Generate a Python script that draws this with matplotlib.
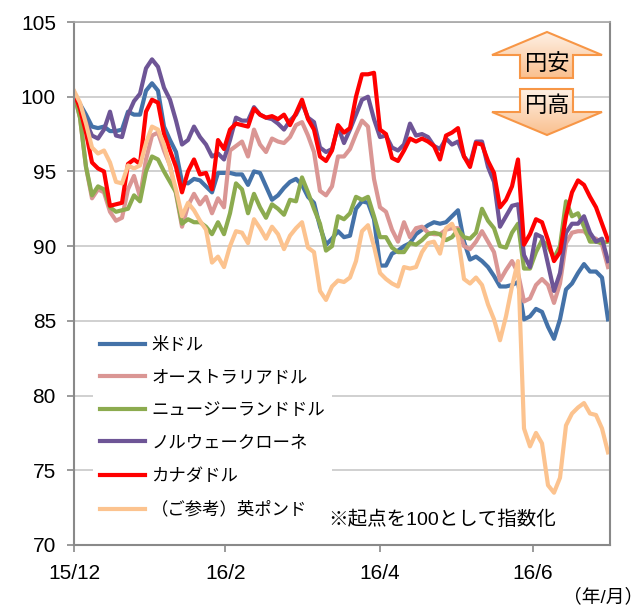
import numpy as np
import matplotlib
matplotlib.use("Agg")
import matplotlib.pyplot as plt
from matplotlib.patches import Polygon
from matplotlib.colors import LinearSegmentedColormap

plt.rcParams['font.family'] = ['Liberation Sans', 'Noto Sans CJK JP']

# -------------------------------
# Data (index, start = 100)
# -------------------------------
usd = [100.2, 99.5, 98.8, 98.0, 97.9, 98.0, 97.7, 97.7, 97.8, 99.0,
       98.8, 98.8, 100.4, 100.9, 100.4, 98.0, 97.1, 96.3, 94.3, 94.2,
       94.5, 94.4, 94.0, 93.6, 94.9, 94.9, 94.9, 94.8, 94.8, 94.1,
       95.0, 94.9, 94.0, 93.1, 93.4, 93.9, 94.3, 94.5, 94.1, 93.3,
       92.9, 91.3, 90.1, 90.5, 91.0, 90.6, 90.7, 92.5, 93.0, 92.9,
       91.8, 88.7, 88.7, 89.5, 89.7, 90.0, 90.2, 90.8, 91.1, 91.4,
       91.6, 91.5, 91.6, 92.0, 92.4, 90.3, 89.1, 89.3, 89.0, 88.6,
       88.0, 87.3, 87.3, 87.4, 87.6, 85.1, 85.3, 85.8, 85.6, 84.6,
       83.8, 85.1, 87.1, 87.5, 88.2, 88.8, 88.3, 88.3, 87.9, 85.1]

aud = [100.2, 98.6, 95.3, 93.2, 93.8, 93.6, 92.3, 91.7, 91.9, 93.8,
       94.7, 93.3, 95.8, 97.4, 97.6, 96.4, 95.4, 93.5, 91.3, 92.7,
       93.5, 92.8, 93.3, 92.2, 93.2, 92.6, 96.4, 96.7, 97.0, 96.0,
       97.8, 96.8, 96.3, 97.2, 97.0, 96.9, 97.3, 98.1, 98.3, 97.4,
       96.3, 93.7, 93.4, 94.0, 96.0, 96.0, 96.5, 97.5, 98.4, 98.0,
       94.5, 92.6, 92.3, 91.1, 90.3, 91.6, 90.6, 91.2, 91.3, 90.9,
       90.8, 90.8, 91.1, 91.2, 91.2, 90.0, 89.8, 90.3, 91.0, 90.3,
       89.6, 87.7, 88.4, 89.0, 88.2, 86.3, 86.5, 87.4, 87.8, 87.4,
       86.2, 87.5, 90.2, 90.9, 91.0, 91.0, 90.6, 90.5, 90.1, 88.6]

nzd = [100.2, 98.6, 95.3, 93.4, 94.0, 93.8, 92.6, 92.3, 92.4, 92.5,
       93.4, 93.0, 95.0, 96.0, 95.8, 95.0, 94.3, 93.6, 91.5, 91.8,
       91.6, 91.6, 91.3, 90.8, 91.6, 90.8, 92.2, 94.2, 93.8, 92.2,
       93.5, 92.6, 91.9, 92.8, 92.5, 92.1, 93.1, 93.0, 94.6, 93.6,
       92.5, 91.5, 89.7, 90.0, 92.0, 91.8, 92.2, 93.3, 93.1, 93.3,
       92.0, 90.6, 90.6, 89.9, 89.6, 89.6, 90.2, 90.1, 90.4, 90.8,
       90.9, 90.8, 90.4, 90.6, 91.1, 90.6, 90.5, 90.9, 92.5, 91.7,
       91.2, 90.0, 89.9, 90.9, 91.5, 88.5, 88.5, 89.6, 90.4, 90.0,
       89.2, 90.0, 93.0, 92.0, 92.2, 91.3, 90.3, 90.3, 90.2, 90.3]

nok = [100.2, 99.4, 98.3, 97.4, 97.2, 97.8, 99.0, 97.4, 97.3, 98.8,
       99.7, 100.2, 101.9, 102.5, 102.0, 100.6, 99.8, 98.4, 96.8, 97.1,
       98.0, 97.3, 96.8, 96.0, 96.2, 95.8, 97.1, 98.6, 98.4, 98.4,
       99.3, 98.8, 98.6, 98.5, 98.2, 97.8, 98.4, 98.8, 99.6, 98.6,
       98.3, 96.6, 96.3, 96.5, 98.0, 96.9, 97.8, 98.8, 99.8, 100.0,
       98.5, 97.3, 97.4, 96.6, 96.4, 96.8, 98.2, 97.4, 97.5, 97.3,
       96.7, 96.5, 97.2, 96.8, 97.0, 96.0, 95.5, 97.0, 97.0, 95.3,
       94.3, 91.3, 92.0, 92.7, 92.8, 89.4, 88.6, 90.8, 90.6, 88.8,
       87.0, 88.2, 90.9, 91.5, 91.5, 92.0, 90.9, 90.3, 90.5, 89.0]

cad = [100.3, 99.2, 97.6, 95.6, 95.2, 95.0, 92.7, 92.8, 92.9, 95.5,
       95.8, 95.5, 99.0, 99.8, 99.6, 97.5, 96.4, 95.3, 93.6, 95.0,
       95.8, 94.8, 94.9, 93.8, 97.1, 96.5, 97.8, 98.2, 98.1, 98.0,
       99.2, 98.8, 98.6, 98.7, 98.5, 98.8, 98.1, 98.9, 99.8, 98.5,
       97.8, 96.0, 95.7, 96.4, 98.1, 97.6, 97.9, 100.0, 101.5, 101.5,
       101.6, 97.8, 97.5, 95.9, 95.7, 96.4, 97.2, 97.0, 97.2, 97.0,
       96.7, 95.8, 97.4, 97.6, 97.9, 96.0, 95.3, 96.9, 96.8, 95.7,
       94.9, 92.6, 93.1, 94.0, 95.8, 90.1, 90.8, 91.8, 91.6, 90.4,
       89.0, 89.6, 92.0, 93.6, 94.4, 94.1, 93.3, 92.6, 91.5, 90.4]

gbp = [100.4, 99.6, 98.2, 96.6, 96.2, 96.4, 95.6, 94.3, 94.2, 95.4,
       95.2, 95.4, 96.9, 98.0, 97.8, 96.8, 95.3, 93.8, 92.0, 92.9,
       92.4, 91.7, 91.1, 88.9, 89.3, 88.6, 90.0, 91.0, 90.9, 90.2,
       91.8, 91.2, 90.5, 91.3, 90.8, 89.8, 90.7, 91.2, 91.6, 89.9,
       89.6, 87.0, 86.4, 87.3, 87.7, 87.6, 87.9, 89.0, 91.0, 91.4,
       90.0, 88.2, 87.8, 87.5, 87.3, 88.6, 88.5, 88.6, 89.6, 90.2,
       90.3, 89.5, 91.2, 91.5, 90.6, 87.8, 87.5, 87.9, 87.4, 86.1,
       85.1, 83.7, 85.3, 87.3, 89.0, 77.8, 76.6, 77.5, 76.8, 74.0,
       73.5, 74.5, 78.0, 78.8, 79.2, 79.5, 78.8, 78.7, 77.8, 76.2]

names = ['米ドル', 'オーストラリアドル', 'ニュージーランドドル',
         'ノルウェークローネ', 'カナダドル', '（ご参考）英ポンド']
colors = ['#4472A8', '#DA9694', '#8CAB4F', '#6E5596', '#FF0000', '#FCC38F']

tick_labels = ['15/12', '16/2', '16/4', '16/6']
tick_pos = [0, 25.2, 51, 76.5]

# -------------------------------
# Figure
# -------------------------------
W, H = 644, 610
fig = plt.figure(figsize=(W / 100, H / 100), dpi=100)
ax = fig.add_axes([74 / W, 1 - 545 / H, 536 / W, 523 / H])

x = np.arange(len(usd))
for vals, name, c in zip([usd, aud, nzd, nok, cad, gbp], names, colors):
    ax.plot(x, vals, color=c, lw=3, label=name, solid_joinstyle='round')

ax.set_xlim(0, 536 / 6)
ax.set_ylim(70, 105)
ax.set_yticks(range(70, 106, 5))
ax.set_xticks(tick_pos)
ax.set_xticklabels(tick_labels)

grey = '#898989'
ax.yaxis.grid(True, color='#C8C8C8', lw=1.2)
ax.set_axisbelow(True)
for s in ['left', 'bottom', 'right']:
    ax.spines[s].set_color(grey)
    ax.spines[s].set_linewidth(1.5)
ax.spines['top'].set_color('#A6A6A6')
ax.spines['top'].set_linewidth(1.2)
ax.tick_params(axis='both', direction='out', length=5, width=1.2,
               color=grey, labelsize=15, labelcolor='black')
ax.tick_params(axis='x', pad=9)
ax.tick_params(axis='y', pad=8)

leg = ax.legend(loc='upper left', bbox_to_anchor=(93 / W, 1 - 330 / H),
                bbox_transform=fig.transFigure, fontsize=12.5, frameon=True,
                fancybox=False, framealpha=1, borderpad=0.4, borderaxespad=0,
                handlelength=2.6, handletextpad=0.35, labelspacing=1.0)
leg.get_frame().set_edgecolor('none')
leg.get_frame().set_facecolor('white')

# -------------------------------
# Overlay: arrows and notes (pixel coords)
# -------------------------------
ov = fig.add_axes([0, 0, 1, 1], zorder=5)
ov.patch.set_alpha(0)
ov.axis('off')

cmap = LinearSegmentedColormap.from_list('arr', ['#FEF0E4', '#FAC08F'])
grad = np.linspace(0, 1, 64).reshape(-1, 1)

up = [(547, 32), (602, 55), (573, 55), (573, 78), (520, 78), (520, 55), (492, 55)]
down = [(520, 89), (573, 89), (573, 112), (602, 112), (547, 135), (492, 112), (520, 112)]
for pts in [up, down]:
    ys = [p[1] for p in pts]
    poly = Polygon(pts, closed=True, facecolor='none', edgecolor='#F79646', lw=1.5)
    im = ov.imshow(grad, cmap=cmap, aspect='auto', origin='upper',
                   extent=(492, 602, max(ys), min(ys)))
    ov.add_patch(poly)
    im.set_clip_path(poly)

ov.set_xlim(0, W)
ov.set_ylim(H, 0)

ov.text(547, 64, '円安', ha='center', va='center', fontsize=16)
ov.text(547, 107, '円高', ha='center', va='center', fontsize=16)
ov.text(328, 520, '※起点を100として指数化', ha='left', va='center', fontsize=14)
ov.text(643, 597, '（年/月）', ha='right', va='center', fontsize=13.5)

fig.savefig('out.png', dpi=100)
